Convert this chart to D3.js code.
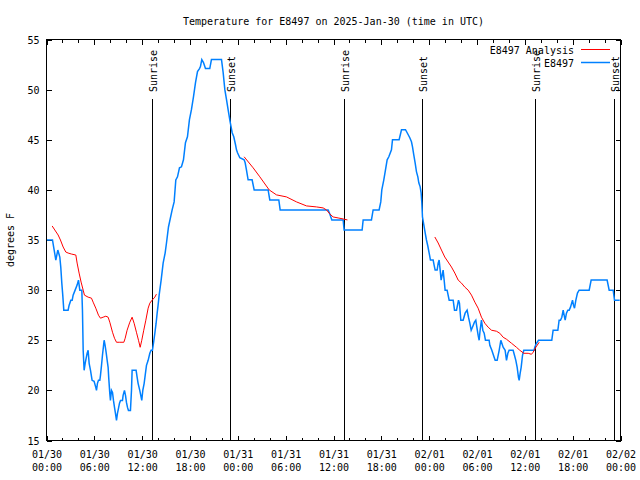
<!DOCTYPE html>
<html><head><meta charset="utf-8">
<script src="https://cdn.jsdelivr.net/npm/d3@7"></script>
<style>
body{margin:0;background:#fff}
svg text{font-family:"DejaVu Sans Mono","Liberation Mono",monospace;font-size:10px;fill:#000}
</style>
</head><body>
<svg id="chart" width="640" height="480"></svg>
<script>
const title = "Temperature for E8497 on 2025-Jan-30 (time in UTC)";
const yLabel = "degrees F";
const startUTC = Date.UTC(2025, 0, 30, 0, 0);
const spanHours = 72;
const yTicks = [15, 20, 25, 30, 35, 40, 45, 50, 55];
const legendNames = ["E8497 Analysis", "E8497"];

// observations (hours since 2025-01-30 00:00 UTC, degrees F)
const obsHours = [0,0.75,0.92,1.17,1.42,1.67,1.79,1.92,2.04,2.17,2.71,2.84,3.05,3.22,3.34,3.59,3.84,4.01,4.18,4.43,4.51,4.6,4.72,4.85,4.97,5.10,5.22,5.35,5.52,5.72,5.97,6.18,6.27,6.39,6.52,6.69,6.77,6.9,7.02,7.23,7.35,7.48,7.61,7.73,7.81,7.94,8.02,8.15,8.28,8.4,8.53,8.65,8.78,8.9,9.03,9.15,9.28,9.53,9.61,9.78,9.91,10.03,10.16,10.28,10.53,10.66,10.74,11.24,11.37,11.49,11.7,11.95,12.08,12.25,12.41,12.54,12.75,12.96,13.12,13.29,13.42,13.59,13.75,13.88,14.0,14.13,14.38,14.63,14.88,15.05,15.3,15.76,16.01,16.22,16.43,16.68,16.93,17.18,17.43,17.68,17.93,18.18,18.44,18.69,18.94,19.19,19.31,19.48,19.69,19.94,20.48,20.69,21.95,22.16,22.37,22.58,22.78,23.03,23.29,23.49,23.71,23.83,23.96,24.25,24.79,24.92,25.08,25.29,25.79,26.05,27.8,28.01,29.14,29.31,35.33,35.54,35.79,37.21,37.33,39.59,39.72,40.76,40.97,41.72,41.93,42.06,42.31,42.52,42.73,42.94,43.27,43.4,44.23,44.53,45.03,45.24,45.57,45.78,45.91,46.07,46.24,46.41,46.58,46.7,46.87,46.99,47.08,47.16,47.33,47.5,47.66,47.83,48.0,48.16,48.5,48.62,48.75,49.0,49.13,49.25,49.38,49.5,49.63,49.75,49.88,50.0,50.25,50.51,51.01,51.18,51.43,51.68,51.8,51.97,52.26,52.51,52.76,52.93,53.1,53.27,53.43,53.68,53.85,53.98,54.14,54.27,54.39,54.56,54.73,54.9,55.06,55.52,55.61,55.86,56.15,56.28,56.53,56.78,56.99,57.28,57.53,57.7,57.87,58.03,58.53,58.7,58.87,59.04,59.2,59.29,59.41,59.54,59.71,59.87,61.17,61.25,61.46,61.71,63.38,63.55,64.14,64.3,64.47,64.64,64.81,64.93,65.06,65.22,65.39,65.56,65.73,65.98,66.1,66.23,66.4,66.6,66.81,68.07,68.32,70.32,70.58,71.08,71.25,71.9];
const obsTemps = [35,35,34.2,33,34,33.3,32.3,30.7,29.5,28,28,28.5,29,29,29.5,30,30.5,31,30,30,28,24,22,22.7,23.2,23.7,24,22.7,22,21,20.9,20.3,20,20.7,21,21,21.5,22.5,23.5,25,24.5,23.8,23,22.3,21.2,19.7,19,20,19.8,19,18.3,17.7,17,17.7,18.2,18.7,19,19,19.5,20,19.5,18.8,18.3,18,18,20,22,22,21.3,20.7,20,19,20,20.7,21.7,22.5,23,23.7,24,24,24.7,25.7,26.7,27.7,28.5,29.5,31,32.7,33.7,34.7,36.3,38,38.8,41,41.3,42.2,42.3,43,44.7,45.3,47,48,49.3,50.7,51.8,52.1,52.3,53,52.7,52.1,52.1,53,53,51.7,50,49,48,46.8,45.7,45.3,44.5,44,43.7,43.2,43,42.7,42,41,41,40,40,39,39,38,38,37.6,37,37,36,36,37,37,38,38,38.8,40,41,42,43,43.3,44,45,45,46,46,45.7,45.2,44.8,44.3,43.5,42.7,41.8,41.3,40.7,40.3,39.7,38.7,37.3,36.5,35.7,35,34.4,33.7,33,33,32.5,32,32,32.7,33,32,31,31.5,32,31,30,30,29,29,28,28,29,28.7,27,27,27.7,28,27.3,26.7,26,26.3,26.8,27,26.3,25.5,25,26,27,26,25.7,25,25,24.5,24,23.3,23,23,24,25,24.3,24,23,23.7,24,24,23.5,23,22.3,21.3,21,21.7,22.3,23.5,24,24,24.3,24.7,25,25,26,26,27,27,27.3,28,27.5,27,27.7,28,28,28.3,29,28.5,28.2,29,29.7,30,30,31,31,30,30,29,29];

// analysis (null marks gaps between analysis runs)
const anaHours = [0.71,1.04,1.46,1.75,2.09,2.42,2.71,3.13,3.68,3.84,4.09,4.34,4.6,4.76,5.22,5.64,5.85,6.18,6.52,6.77,7.1,7.44,7.73,7.94,8.28,8.53,8.78,9.19,9.7,9.87,10.11,10.45,10.74,10.99,11.28,11.54,11.75,11.95,12.2,12.46,12.75,12.96,13.25,13.59,13.79,
  null,
  24.79,25.92,26.76,27.93,28.85,30.1,31.36,32.61,33.86,34.7,35.12,35.54,35.95,36.58,37.21,37.75,
  null,
  48.71,49.13,49.54,49.96,50.38,50.8,51.22,51.64,52.05,52.47,52.89,53.31,53.73,54.14,54.56,54.98,55.4,55.82,56.44,56.86,57.28,57.7,58.33,58.95,59.37,59.87,60.42,60.83,61.04,61.38,61.8];
const anaTemps = [36.4,36,35.5,35,34.3,33.8,33.7,33.6,33.5,32.7,31.7,30.8,30,29.5,29.3,29.2,28.8,28.2,27.5,27.2,27.3,27.4,27.3,26.8,25.8,25.2,24.8,24.8,24.8,25.2,26,26.8,27.3,26.7,25.8,25,24.3,25,26,27,28.2,28.7,29,29.3,29.6,
  null,
  43.3,42.2,41.3,40,39.5,39.3,38.8,38.4,38.3,38.2,38,37.6,37.3,37.2,37.1,37,
  null,
  35.3,34.7,34,33.3,32.8,32.3,31.7,31,30.7,30.3,30,29.5,28.8,28.2,27.3,26.7,26.3,26,25.9,25.7,25.3,25.1,24.7,24.3,24,23.7,23.7,23.6,23.8,24.3,24.8];

const sunHours = [13.25, 23.03, 37.32, 47.1, 61.3, 71.2];
const sunNames = ["Sunrise", "Sunset", "Sunrise", "Sunset", "Sunrise", "Sunset"];

const H = 3600 * 1000;
const toDate = h => new Date(startUTC + h * H);
const obs = obsHours.map((h, i) => ({t: toDate(h), v: obsTemps[i]}));
const ana = anaHours.map((h, i) => ({t: h == null ? null : toDate(h), v: anaTemps[i]}));

const svg = d3.select("#chart");
const L = 46.5, R = 620.5, T = 39.5, B = 440.5;
const x = d3.scaleUtc().domain([toDate(0), toDate(spanHours)]).range([L, R]);
const y = d3.scaleLinear().domain([15, 55]).range([B, T]);

const fmtDay = d3.utcFormat("%m/%d"), fmtTime = d3.utcFormat("%H:%M");
const majorVals = d3.utcHour.every(6).range(toDate(0), toDate(spanHours + 0.01));
const minorVals = d3.utcHour.every(2).range(toDate(0), toDate(spanHours + 0.01)).filter(d => d.getUTCHours() % 6 !== 0);

// bottom axis major
svg.append("g").attr("transform", `translate(0,${B})`)
  .call(d3.axisBottom(x).tickValues(majorVals).tickSizeInner(-5).tickSizeOuter(0).tickPadding(0))
  .call(g => g.select(".domain").remove())
  .call(g => g.selectAll(".tick text").text(null).attr("y", 0).attr("dy", null)
    .call(t => t.append("tspan").attr("x", 0).attr("y", 17.5).text(d => fmtDay(d)))
    .call(t => t.append("tspan").attr("x", 0).attr("y", 30.5).text(d => fmtTime(d))));
svg.append("g").attr("transform", `translate(0,${B})`)
  .call(d3.axisBottom(x).tickValues(minorVals).tickSizeInner(-3).tickSizeOuter(0).tickFormat(""))
  .call(g => g.select(".domain").remove());
// top axis
svg.append("g").attr("transform", `translate(0,${T})`)
  .call(d3.axisTop(x).tickValues(majorVals).tickSizeInner(-5).tickSizeOuter(0).tickFormat(""))
  .call(g => g.select(".domain").remove());
svg.append("g").attr("transform", `translate(0,${T})`)
  .call(d3.axisTop(x).tickValues(minorVals).tickSizeInner(-3).tickSizeOuter(0).tickFormat(""))
  .call(g => g.select(".domain").remove());
// left / right axes
svg.append("g").attr("transform", `translate(${L},0)`)
  .call(d3.axisLeft(y).tickValues(yTicks).tickSizeInner(-5).tickSizeOuter(0).tickPadding(7))
  .call(g => g.select(".domain").remove())
  .call(g => g.selectAll(".tick text").attr("dy", "0.36em"));
svg.append("g").attr("transform", `translate(${R},0)`)
  .call(d3.axisRight(y).tickValues(yTicks).tickSizeInner(-5).tickSizeOuter(0).tickFormat(""))
  .call(g => g.select(".domain").remove());
svg.selectAll(".tick line").attr("stroke", "#000").attr("shape-rendering", "crispEdges");
svg.selectAll(".tick text").attr("font-family", null).attr("font-size", null).attr("fill", "#000");

// sunrise / sunset lines
const sun = svg.append("g");
sunHours.forEach((h, i) => {
  const xp = Math.round(x(toDate(h))) + 0.5;
  sun.append("line").attr("x1", xp).attr("x2", xp).attr("y1", 99).attr("y2", B)
    .attr("stroke", "#000").attr("stroke-width", 1).attr("shape-rendering", "crispEdges");
  sun.append("text").attr("transform", `translate(${xp},92) rotate(-90)`)
    .attr("text-anchor", "start").attr("dy", "0.45em").text(sunNames[i]);
});

// series
const line = d3.line().defined(d => d.t != null && d.v != null).x(d => x(d.t)).y(d => y(d.v));
svg.append("path").datum(obs).attr("d", line).attr("fill", "none")
  .attr("stroke", "#0080ff").attr("stroke-width", 1.5).attr("stroke-linejoin", "miter");
svg.append("path").datum(ana).attr("d", line).attr("fill", "none")
  .attr("stroke", "#ff0000").attr("stroke-width", 1);

// frame
svg.append("rect").attr("x", L).attr("y", T).attr("width", R - L).attr("height", B - T)
  .attr("fill", "none").attr("stroke", "#000").attr("shape-rendering", "crispEdges");

// legend
const legColors = ["#ff0000", "#0080ff"], legWidths = [1, 1.5];
legendNames.forEach((n, i) => {
  const yy = 49.5 + i * 13;
  svg.append("text").attr("x", 574).attr("y", yy).attr("dy", "0.4em").attr("text-anchor", "end").text(n);
  svg.append("line").attr("x1", 581).attr("x2", 610).attr("y1", yy).attr("y2", yy)
    .attr("stroke", legColors[i]).attr("stroke-width", legWidths[i]);
});

// title and y label
svg.append("text").attr("x", (L + R) / 2).attr("y", 24.5).attr("text-anchor", "middle").text(title);
svg.append("text").attr("transform", "translate(10,240) rotate(-90)").attr("text-anchor", "middle")
  .attr("dy", "0.35em").text(yLabel);
</script>
</body></html>
